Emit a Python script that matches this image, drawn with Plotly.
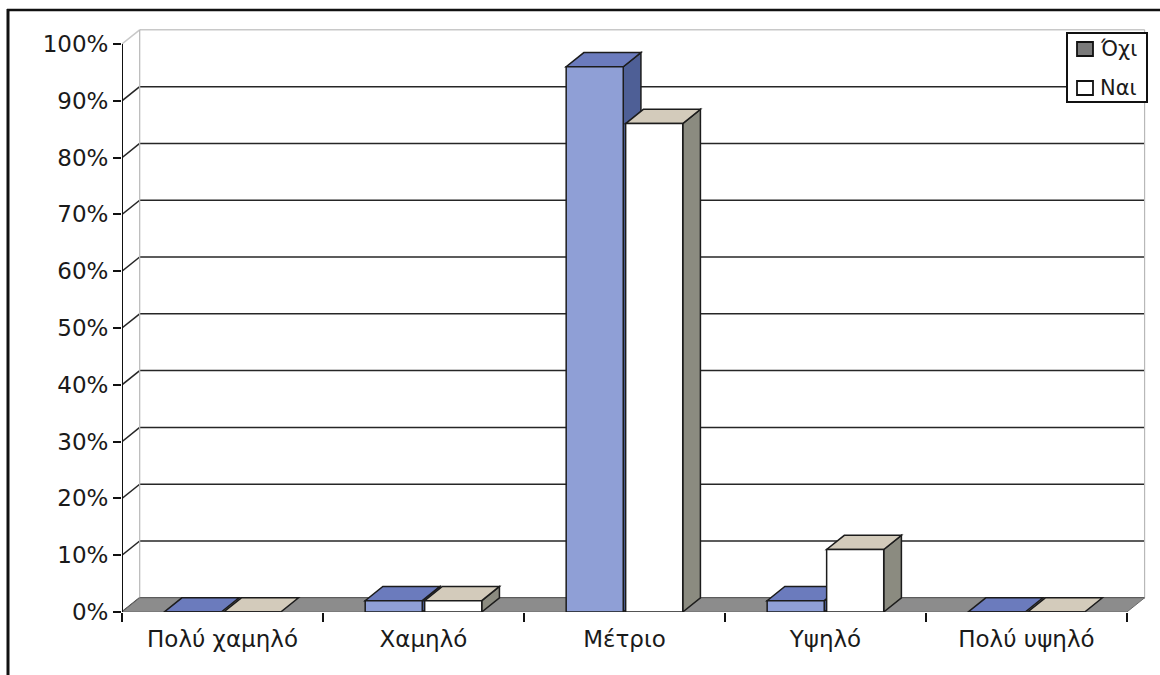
import plotly.graph_objects as go

# ---- data ----
categories = ["Πολύ χαμηλό", "Χαμηλό", "Μέτριο", "Υψηλό", "Πολύ υψηλό"]
ochi = [0, 2, 96, 2, 0]   # Όχι, %
nai = [0, 2, 86, 11, 0]   # Ναι, %
y_ticks = list(range(0, 101, 10))
y_tick_text = [f"{v}%" for v in y_ticks]
series_names = ["Όχι", "Ναι"]

# ---- geometry / style ----
W, H = 1160, 675
ML, MR, MT, MB = 122, 13, 27, 63
X_RANGE = [-0.5, 4.6]
Y_RANGE = [0, 103]
DX, DY = 0.088, 2.5          # depth offset of the 3D effect, in axis units
BAR_W = 0.284
OFFSETS = {"Όχι": -0.29, "Ναι": 0.006}

OUTLINE = "#1c1c1c"
FACE = {
    "Όχι": dict(front="#8f9fd6", top="#6b7bbd", side="#4e5f96", key="#7a7a7a"),
    "Ναι": dict(front="#ffffff", top="#d3cbbb", side="#8b8b80", key="#ffffff"),
}
FONT = "DejaVu Sans, Liberation Sans, Arial, sans-serif"

pw = W - ML - MR
ph = H - MT - MB


def px_to_paper_x(p):
    return (p - ML) / pw


def px_to_paper_y(p):
    return 1 - (p - MT) / ph


fig = go.Figure()
shapes = []
annotations = []

# back wall gridlines and their diagonal links to the axis ticks
x_left, x_right = -0.5, 4.5
for v in y_ticks:
    col = "#c8c8c8" if v == 100 else "#262626"
    shapes.append(dict(type="line", xref="x", yref="y", layer="below",
                       x0=x_left + DX, y0=v + DY, x1=x_right + DX, y1=v + DY,
                       line=dict(color=col, width=1.5)))
    shapes.append(dict(type="line", xref="x", yref="y", layer="below",
                       x0=x_left, y0=v, x1=x_left + DX, y1=v + DY,
                       line=dict(color=col, width=1.5)))
# wall edges
for xe in (x_left + DX, x_right + DX):
    shapes.append(dict(type="line", xref="x", yref="y", layer="below",
                       x0=xe, y0=DY, x1=xe, y1=100 + DY,
                       line=dict(color="#b8b8b8", width=1.2)))

# floor
shapes.append(dict(type="path", xref="x", yref="y", layer="below",
                   path=f"M {x_left},0 L {x_right},0 L {x_right + DX},{DY} L {x_left + DX},{DY} Z",
                   fillcolor="#8c8c8c", line=dict(color="#6a6a6a", width=1)))


def poly(pts):
    return "M " + " L ".join(f"{px},{py}" for px, py in pts) + " Z"


# top and side faces of each column, left to right so right columns overlap
for i in range(len(categories)):
    for name, vals in zip(series_names, (ochi, nai)):
        v = vals[i]
        x0 = i + OFFSETS[name]
        x1 = x0 + BAR_W
        side = [(x1, 0), (x1 + DX, DY), (x1 + DX, v + DY), (x1, v)]
        top = [(x0, v), (x1, v), (x1 + DX, v + DY), (x0 + DX, v + DY)]
        if v > 0:
            shapes.append(dict(type="path", xref="x", yref="y", layer="below",
                               path=poly(side), fillcolor=FACE[name]["side"],
                               line=dict(color=OUTLINE, width=1.5)))
        shapes.append(dict(type="path", xref="x", yref="y", layer="below",
                           path=poly(top), fillcolor=FACE[name]["top"],
                           line=dict(color=OUTLINE, width=1.5)))

# front faces
for name, vals in zip(series_names, (ochi, nai)):
    fig.add_trace(go.Bar(
        x=list(range(len(categories))), y=vals, width=BAR_W, offset=OFFSETS[name],
        marker=dict(color=FACE[name]["front"], line=dict(color=OUTLINE, width=1.5)),
        showlegend=False, hoverinfo="skip", name=name))

# value axis line
shapes.append(dict(type="line", xref="x", yref="y", x0=x_left, y0=0, x1=x_left, y1=100,
                   line=dict(color="#111111", width=2)))

# legend box with keys
shapes.append(dict(type="rect", xref="paper", yref="paper",
                   x0=px_to_paper_x(1067), y0=px_to_paper_y(102),
                   x1=px_to_paper_x(1147), y1=px_to_paper_y(33),
                   fillcolor="white", line=dict(color="#111111", width=2)))
for k, name in enumerate(series_names):
    cy = 49 + 39 * k
    shapes.append(dict(type="rect", xref="paper", yref="paper",
                       x0=px_to_paper_x(1077), y0=px_to_paper_y(cy + 7),
                       x1=px_to_paper_x(1093), y1=px_to_paper_y(cy - 7),
                       fillcolor=FACE[name]["key"], line=dict(color="#111111", width=1.8)))
    annotations.append(dict(xref="paper", yref="paper", x=px_to_paper_x(1098), y=px_to_paper_y(cy),
                            xanchor="left", yanchor="middle", text=name, showarrow=False,
                            font=dict(family=FONT, size=21, color="#1a1a1a")))

# outer frame (top and left edges)
shapes.append(dict(type="line", xref="paper", yref="paper",
                   x0=px_to_paper_x(7), y0=px_to_paper_y(10), x1=px_to_paper_x(1160), y1=px_to_paper_y(10),
                   line=dict(color="#111111", width=2.5)))
shapes.append(dict(type="line", xref="paper", yref="paper",
                   x0=px_to_paper_x(8), y0=px_to_paper_y(9), x1=px_to_paper_x(8), y1=px_to_paper_y(675),
                   line=dict(color="#111111", width=3)))

fig.update_layout(
    width=W, height=H,
    margin=dict(l=ML, r=MR, t=MT, b=MB),
    paper_bgcolor="white", plot_bgcolor="white",
    barmode="overlay",
    shapes=shapes,
    annotations=annotations,
    font=dict(family=FONT, size=23, color="#1a1a1a"),
    showlegend=False,
    xaxis=dict(range=X_RANGE, tickmode="array", tickvals=list(range(len(categories))),
               ticktext=categories, ticks="", showgrid=False, zeroline=False, showline=False,
               fixedrange=True, ticklabelstandoff=11,
               minor=dict(tickmode="array", tickvals=[k - 0.5 for k in range(len(categories) + 1)],
                          ticks="outside", ticklen=9, tickwidth=2, tickcolor="#111111", showgrid=False)),
    yaxis=dict(range=Y_RANGE, tickmode="array", tickvals=y_ticks, ticktext=y_tick_text,
               ticks="outside", ticklen=8, tickwidth=2, tickcolor="#111111",
               showgrid=False, zeroline=False, showline=False, fixedrange=True),
)

fig.write_html("out.html")
